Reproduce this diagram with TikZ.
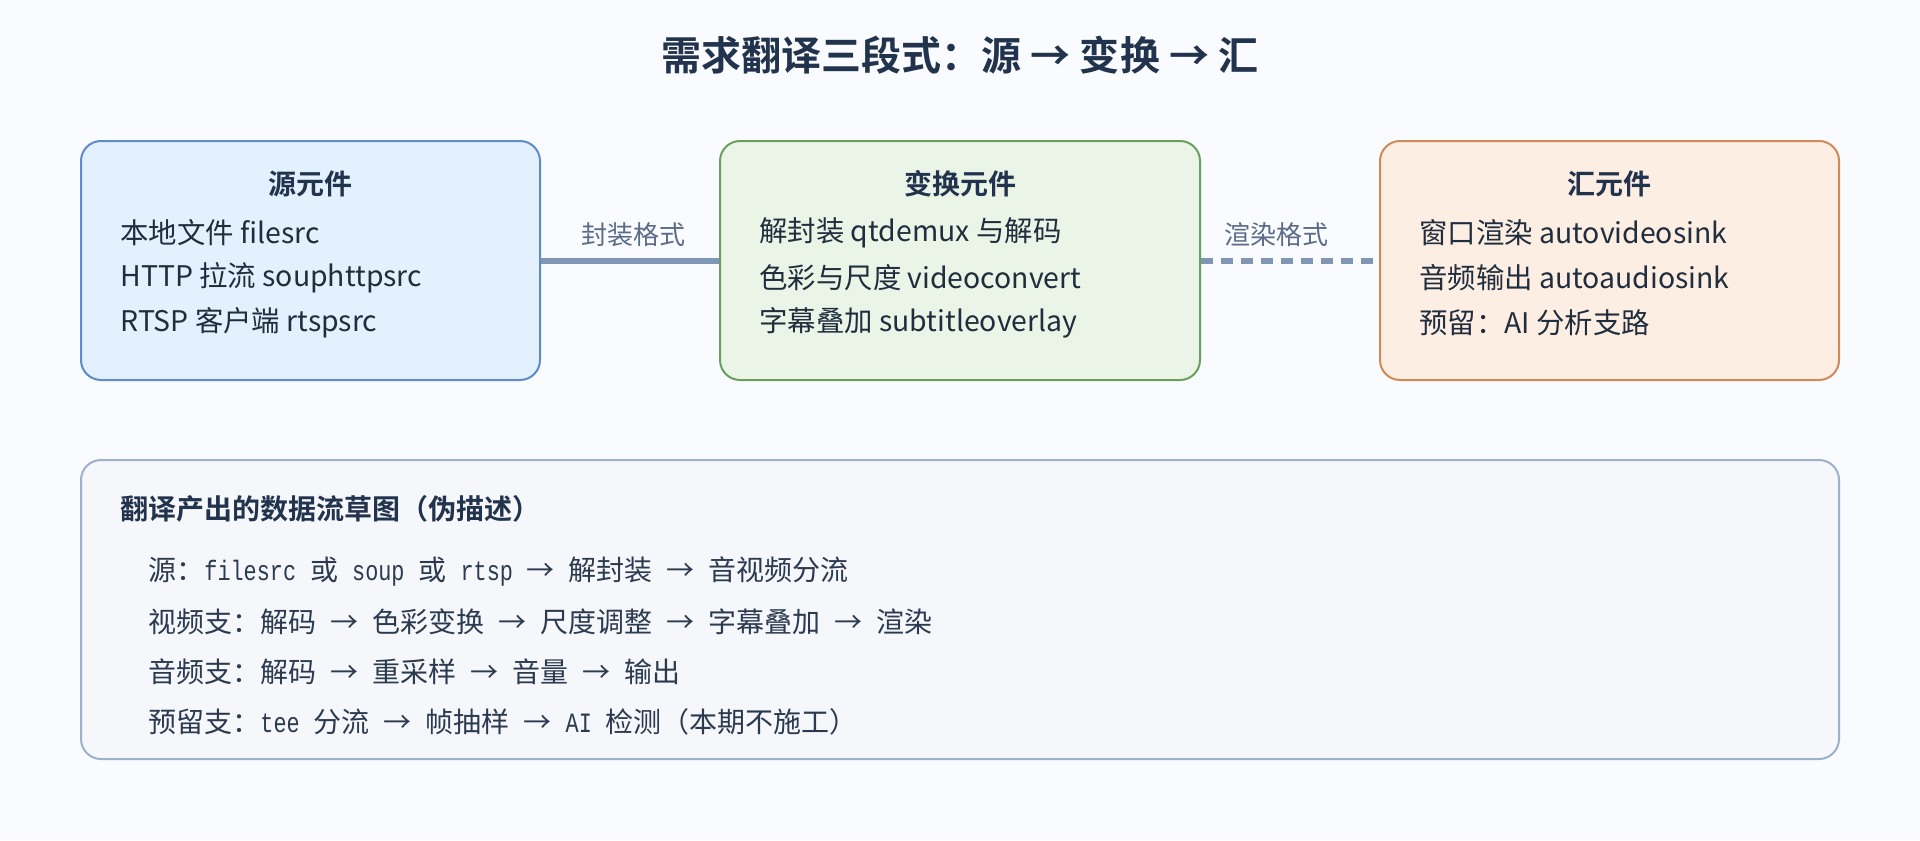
\documentclass[tikz,border=0pt]{standalone}
\usepackage{fontspec}
\setmainfont{Noto Sans CJK SC}[BoldFont={Noto Sans CJK SC Bold}]
\newfontfamily\latmono[FakeStretch=0.78]{Liberation Mono}
\newcommand\lat[1]{{\latmono #1}}
\newcommand\msp{\hspace*{7pt}}
\definecolor{bgc}{HTML}{F9FBFE}
\definecolor{titlec}{HTML}{22334D}
\definecolor{textc}{HTML}{1F2D3D}
\definecolor{srcfill}{HTML}{E3F0FE}
\definecolor{srcdraw}{HTML}{5E8CCB}
\definecolor{trffill}{HTML}{EAF5E7}
\definecolor{trfdraw}{HTML}{6B9F5D}
\definecolor{snkfill}{HTML}{FDEEE3}
\definecolor{snkdraw}{HTML}{CF8A57}
\definecolor{flowfill}{HTML}{F5F7FA}
\definecolor{flowdraw}{HTML}{9DB1CA}
\definecolor{connc}{HTML}{8096B5}
\definecolor{lblc}{HTML}{5A6C88}
\definecolor{monoc}{HTML}{2C3A50}
\tikzset{
  box/.style={draw, line width=1pt, rounded corners=10pt, inner sep=0pt},
  boxtitle/.style={font=\fontsize{14}{16}\selectfont\bfseries, text=titlec, inner sep=0pt},
  bodytxt/.style={font=\fontsize{14.2}{16}\selectfont, text=textc, anchor=west, inner sep=0pt},
  lbl/.style={font=\fontsize{13}{15}\selectfont, text=lblc, inner sep=0pt},
  conn/.style={draw=connc, line width=3pt},
  monotxt/.style={font=\fontsize{14}{16}\selectfont, text=monoc, anchor=west, inner sep=0pt},
}
\begin{document}
\begin{tikzpicture}[x=0.5pt, y=-0.5pt]
\useasboundingbox (0,0) rectangle (1920,840);
\fill[bgc] (0,0) rectangle (1920,840);

% title
\node[font=\fontsize{20}{24}\selectfont\bfseries, text=titlec, inner sep=0pt] (title) at (960,55) {需求翻译三段式：源 → 变换 → 汇};

% boxes
\node[box, fill=srcfill, draw=srcdraw, minimum width=229.5pt, minimum height=119.5pt] (src) at (310.5,260.5) {};
\node[box, fill=trffill, draw=trfdraw, minimum width=240pt, minimum height=119.5pt] (trf) at (960,260.5) {};
\node[box, fill=snkfill, draw=snkdraw, minimum width=229.5pt, minimum height=119.5pt] (snk) at (1609.5,260.5) {};

% connectors
\draw[conn] (src.east) -- (trf.west);
\draw[conn, dash pattern=on 6pt off 4pt] (trf.east) -- (snk.west);
\node[lbl] (l1) at (633,235) {封装格式};
\node[lbl] (l2) at (1276,235) {渲染格式};

% source texts
\node[boxtitle] (srct) at (310.5,184) {源元件};
\node[bodytxt] (s1) at (120,233) {本地文件 filesrc};
\node[bodytxt] (s2) at (120,278) {HTTP 拉流 souphttpsrc};
\node[bodytxt] (s3) at (120,323) {RTSP 客户端 rtspsrc};

% transform texts
\node[boxtitle] (trft) at (960,184) {变换元件};
\node[bodytxt] (t1) at (759,233) {解封装 qtdemux 与解码};
\node[bodytxt] (t2) at (759,278) {色彩与尺度 videoconvert};
\node[bodytxt] (t3) at (759,323) {字幕叠加 subtitleoverlay};

% sink texts
\node[boxtitle] (snkt) at (1609.5,184) {汇元件};
\node[bodytxt] (k1) at (1419,233) {窗口渲染 autovideosink};
\node[bodytxt] (k2) at (1419,278) {音频输出 autoaudiosink};
\node[bodytxt] (k3) at (1419,323) {预留：AI 分析支路};

% flow box
\node[box, fill=flowfill, draw=flowdraw, minimum width=879pt, minimum height=149.5pt] (flow) at (960,609.5) {};
\node[boxtitle, anchor=west] (flowt) at (120,509) {翻译产出的数据流草图（伪描述）};
\node[monotxt] (m1) at (148,572) {源：\lat{filesrc}\msp 或\msp\lat{soup}\msp 或\msp\lat{rtsp}\msp →\msp 解封装\msp →\msp 音视频分流};
\node[monotxt] (m2) at (148,622) {视频支：解码\msp →\msp 色彩变换\msp →\msp 尺度调整\msp →\msp 字幕叠加\msp →\msp 渲染};
\node[monotxt] (m3) at (148,672) {音频支：解码\msp →\msp 重采样\msp →\msp 音量\msp →\msp 输出};
\node[monotxt] (m4) at (148,722) {预留支：\lat{tee}\msp 分流\msp →\msp 帧抽样\msp →\msp\lat{AI}\msp 检测（本期不施工）};
\end{tikzpicture}
\end{document}
